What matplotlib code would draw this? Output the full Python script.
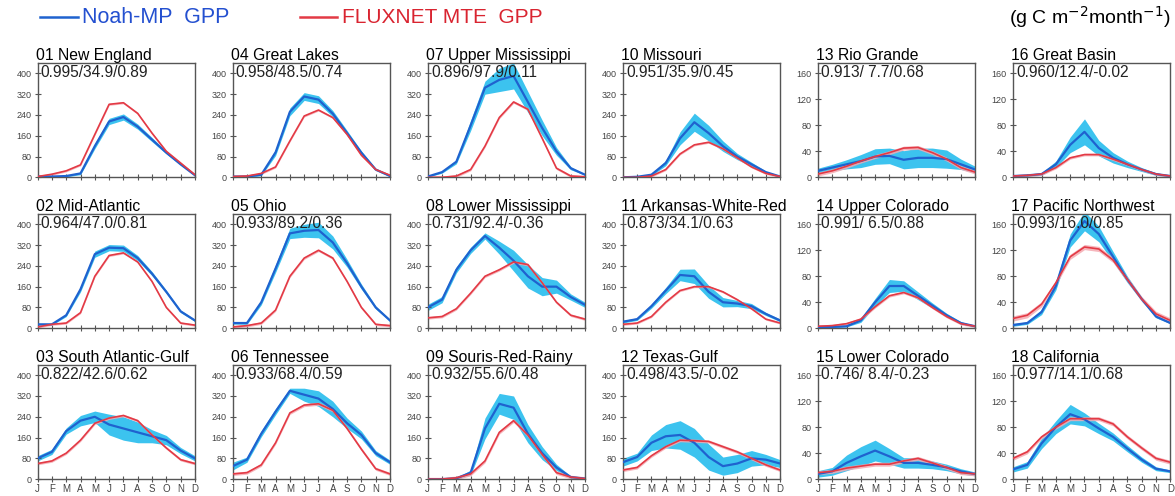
import numpy as np
import matplotlib
matplotlib.use('Agg')
from matplotlib import pyplot as plt

plt.rcParams['font.family'] = ['Liberation Sans', 'DejaVu Sans']

months = ['J', 'F', 'M', 'A', 'M', 'J', 'J', 'A', 'S', 'O', 'N', 'D']

# panels in reading order (row by row)
regions = ['01 New England', '04 Great Lakes', '07 Upper Mississippi', '10 Missouri',
           '13 Rio Grande', '16 Great Basin',
           '02 Mid-Atlantic', '05 Ohio', '08 Lower Mississippi', '11 Arkansas-White-Red',
           '14 Upper Colorado', '17 Pacific Northwest',
           '03 South Atlantic-Gulf', '06 Tennessee', '09 Souris-Red-Rainy', '12 Texas-Gulf',
           '15 Lower Colorado', '18 California']

stats = ['0.995/34.9/0.89', '0.958/48.5/0.74', '0.896/97.9/0.11', '0.951/35.9/0.45',
         '0.913/ 7.7/0.68', '0.960/12.4/-0.02',
         '0.964/47.0/0.81', '0.933/89.2/0.36', '0.731/92.4/-0.36', '0.873/34.1/0.63',
         '0.991/ 6.5/0.88', '0.993/16.0/0.85',
         '0.822/42.6/0.62', '0.933/68.4/0.59', '0.932/55.6/0.48', '0.498/43.5/-0.02',
         '0.746/ 8.4/-0.23', '0.977/14.1/0.68']

# Noah-MP GPP ensemble mean (g C m-2 month-1)
noah = [
    [3, 3, 5, 15, 120, 215, 232, 195, 145, 95, 50, 8],
    [3, 3, 10, 96, 252, 311, 299, 245, 170, 95, 30, 5],
    [3, 20, 60, 200, 345, 375, 390, 290, 190, 100, 35, 10],
    [0, 2, 10, 55, 150, 212, 170, 120, 80, 50, 20, 3],
    [10, 15, 20, 25, 32, 33, 27, 30, 30, 28, 20, 12],
    [2, 3, 5, 20, 50, 70, 45, 30, 20, 12, 5, 2],
    [15, 15, 50, 150, 285, 310, 308, 270, 210, 140, 65, 30],
    [20, 20, 100, 230, 365, 375, 378, 330, 250, 160, 80, 30],
    [80, 110, 225, 300, 355, 310, 260, 200, 160, 160, 120, 90],
    [25, 35, 85, 145, 205, 200, 140, 100, 95, 85, 55, 30],
    [2, 2, 3, 12, 40, 65, 65, 50, 35, 20, 8, 3],
    [5, 8, 25, 65, 135, 165, 145, 110, 75, 45, 18, 8],
    [80, 105, 185, 225, 240, 210, 195, 180, 165, 150, 110, 80],
    [50, 75, 175, 260, 340, 325, 310, 270, 215, 170, 100, 65],
    [0, 0, 3, 25, 195, 290, 275, 175, 100, 45, 8, 2],
    [65, 85, 140, 165, 170, 140, 85, 50, 60, 80, 75, 60],
    [8, 12, 25, 35, 44, 35, 25, 25, 22, 18, 12, 8],
    [15, 22, 55, 80, 100, 92, 78, 65, 47, 30, 16, 12],
]

# half width of the Noah-MP ensemble range
noah_spread = [
    [2, 2, 3, 5, 10, 12, 12, 10, 8, 5, 3, 2],
    [2, 2, 4, 12, 15, 15, 15, 12, 10, 6, 4, 2],
    [2, 4, 8, 20, 25, 45, 50, 40, 30, 15, 6, 2],
    [1, 2, 4, 10, 25, 35, 30, 20, 12, 8, 4, 1],
    [4, 5, 7, 10, 12, 12, 14, 15, 15, 14, 8, 5],
    [1, 1, 2, 5, 12, 20, 12, 8, 5, 3, 2, 1],
    [3, 3, 5, 10, 12, 12, 12, 10, 8, 6, 5, 4],
    [4, 5, 10, 15, 20, 25, 30, 25, 15, 10, 6, 4],
    [12, 12, 12, 12, 12, 25, 40, 45, 35, 25, 12, 10],
    [5, 5, 8, 12, 22, 28, 25, 18, 12, 10, 6, 5],
    [1, 1, 1, 3, 6, 10, 8, 6, 4, 3, 2, 1],
    [2, 2, 4, 6, 10, 15, 12, 8, 5, 3, 2, 1],
    [10, 10, 12, 20, 22, 40, 45, 40, 25, 18, 12, 10],
    [15, 10, 12, 12, 10, 25, 30, 30, 20, 15, 10, 8],
    [1, 1, 2, 10, 40, 40, 45, 35, 25, 12, 4, 1],
    [15, 15, 30, 45, 55, 55, 50, 35, 35, 30, 20, 15],
    [5, 6, 12, 15, 16, 12, 8, 8, 6, 5, 4, 3],
    [4, 5, 8, 10, 15, 10, 8, 6, 5, 4, 3, 2],
]

# FLUXNET MTE GPP
mte = [
    [3, 12, 25, 48, 165, 281, 287, 246, 170, 100, 55, 10],
    [3, 5, 15, 40, 140, 236, 259, 230, 165, 85, 30, 8],
    [0, 0, 5, 30, 120, 230, 290, 262, 150, 35, 5, 2],
    [0, 0, 5, 30, 90, 125, 135, 110, 75, 40, 15, 3],
    [5, 10, 17, 25, 32, 38, 45, 46, 38, 28, 15, 8],
    [2, 3, 5, 15, 30, 35, 35, 28, 20, 12, 5, 2],
    [5, 15, 20, 60, 200, 280, 290, 255, 180, 80, 20, 12],
    [5, 10, 20, 70, 200, 270, 300, 270, 180, 80, 15, 10],
    [40, 45, 75, 135, 200, 225, 255, 245, 175, 100, 50, 35],
    [15, 20, 45, 100, 145, 160, 160, 140, 110, 75, 35, 20],
    [3, 4, 7, 14, 33, 50, 55, 47, 32, 18, 7, 3],
    [15, 20, 37, 70, 110, 125, 122, 105, 75, 45, 22, 12],
    [60, 70, 100, 150, 215, 235, 245, 225, 170, 120, 75, 60],
    [20, 25, 55, 140, 255, 285, 290, 265, 195, 115, 40, 20],
    [0, 0, 5, 20, 70, 180, 225, 170, 95, 25, 8, 2],
    [35, 45, 90, 125, 150, 148, 145, 125, 105, 80, 55, 35],
    [10, 12, 17, 20, 23, 23, 28, 32, 25, 18, 10, 8],
    [32, 42, 65, 80, 93, 93, 93, 85, 65, 48, 32, 26],
]

# half width of the MTE range, one value per region
mte_spread = [4, 4, 5, 4, 3, 2, 4, 5, 5, 4, 2, 4, 5, 6, 7, 6, 3, 3]

y_max = [400, 400, 400, 400, 160, 160]
y_step = [80, 80, 80, 80, 40, 40]

blue_line = '#1f62cf'
blue_band = '#3cc3ef'
red_line = '#e33a45'
red_band = '#f5a9b1'

fig, axes = plt.subplots(3, 6, figsize=(11.75, 4.96), dpi=100)
plt.subplots_adjust(left=0.032, right=0.996, bottom=0.034, top=0.873,
                    wspace=0.24, hspace=0.32)

x = np.arange(12)
for i, ax in enumerate(axes.flat):
    row, col = divmod(i, 6)
    nm = np.array(noah[i])
    ns = np.array(noah_spread[i])
    mt = np.array(mte[i])
    ax.fill_between(x, nm - ns, nm + ns, color=blue_band, lw=0, zorder=1)
    ax.fill_between(x, mt - mte_spread[i], mt + mte_spread[i], color=red_band,
                    lw=0, alpha=0.85, zorder=2)
    ax.plot(x, nm, color=blue_line, lw=1.6, zorder=3)
    ax.plot(x, mt, color=red_line, lw=1.2, zorder=4)

    ax.set_xlim(0, 11)
    ax.set_ylim(0, y_max[col] * 1.1)
    ax.set_yticks(np.arange(0, y_max[col] + 1, y_step[col]))
    ax.set_xticks(x)
    if row == 2:
        ax.set_xticklabels(months)
    else:
        ax.set_xticklabels([])
    ax.tick_params(direction='inout', length=4, width=0.8, labelsize=6.5,
                   colors='#555555', labelcolor='#444444', pad=2.5)
    ax.tick_params(axis='x', labelsize=7, pad=1.5)
    for s in ax.spines.values():
        s.set_color('#555555')
        s.set_linewidth(1.0)

    ax.set_title(regions[i], loc='left', fontsize=11.3, pad=2, x=-0.01)
    ax.text(0.02, 0.985, stats[i], transform=ax.transAxes, fontsize=11.2,
            va='top', ha='left', color='#222222', zorder=5)

# legend row along the top
fig.lines.append(plt.Line2D([0.034, 0.066], [0.965, 0.965], color=blue_line,
                            lw=1.8, transform=fig.transFigure))
fig.text(0.070, 0.965, 'Noah-MP  GPP', color='#2450d0', fontsize=15.5,
         va='center', ha='left')
fig.lines.append(plt.Line2D([0.255, 0.287], [0.965, 0.965], color=red_line,
                            lw=1.8, transform=fig.transFigure))
fig.text(0.291, 0.965, 'FLUXNET MTE  GPP', color='#d92430', fontsize=15,
         va='center', ha='left')
fig.text(0.996, 0.965, r'(g C m$^{-2}$month$^{-1}$)', fontsize=14,
         va='center', ha='right')

plt.savefig('out.png', dpi=100)
